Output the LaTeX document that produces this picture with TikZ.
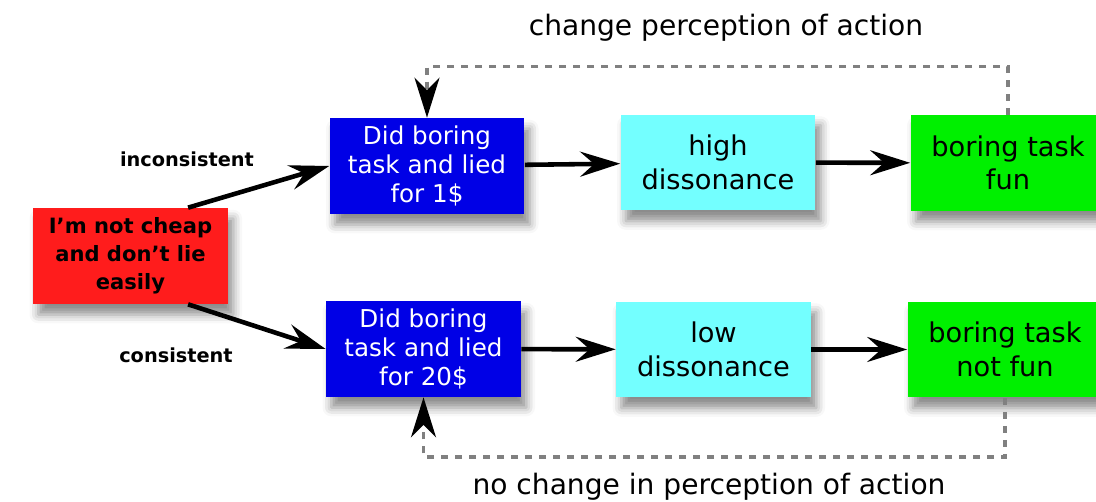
\documentclass[tikz,border=0pt]{standalone}
\usepackage{fontspec}
\setmainfont{DejaVu Sans}
\usetikzlibrary{arrows.meta,shadows.blur}
\definecolor{boxred}{RGB}{255,28,28}
\definecolor{boxblue}{RGB}{0,0,230}
\definecolor{boxcyan}{RGB}{115,255,255}
\definecolor{boxgreen}{RGB}{0,240,0}
\definecolor{dashgray}{RGB}{128,128,128}
\begin{document}
\begin{tikzpicture}[x=0.02cm,y=-0.02cm,
	box/.style={rectangle,inner sep=0pt,minimum width=3.9cm,minimum height=1.92cm,align=center,
		blur shadow={shadow xshift=3pt,shadow yshift=-6pt,shadow blur radius=5pt,shadow opacity=45}},
	big/.style={font=\fontsize{15.5}{19}\selectfont},
	arr/.style={line width=2.6pt,-{Stealth[length=0.8cm,width=0.5cm,inset=0.28cm]}},
	fb/.style={dashgray,line width=2pt,dash pattern=on 0.14cm off 0.14cm,
		-{Stealth[black,length=0.8cm,width=0.5cm,inset=0.25cm]}},
	lbl/.style={font=\bfseries\fontsize{11}{13}\selectfont},
	title/.style={font=\fontsize{16}{19}\selectfont}]
	\useasboundingbox (0,0) rectangle (1096,502);
	
	\node[box,fill=boxred,font=\bfseries\fontsize{12}{16}\selectfont] (cheap) at (130.5,256) {I'm not cheap\\and don't lie\\easily};
	\node[box,fill=boxblue,text=white,font=\fontsize{14}{16.5}\selectfont] (lied1) at (427,166) {Did boring\\task and lied\\for 1\$};
	\node[box,fill=boxblue,text=white,font=\fontsize{14}{16.5}\selectfont] (lied20) at (423.5,349) {Did boring\\task and lied\\for 20\$};
	\node[box,big,fill=boxcyan] (high) at (718,162.5) {high\\dissonance};
	\node[box,big,fill=boxcyan] (low) at (713.5,349.5) {low\\dissonance};
	\node[box,big,fill=boxgreen] (fun) at (1008,163) {boring task\\fun};
	\node[box,big,fill=boxgreen] (notfun) at (1005,349.5) {boring task\\not fun};
	
	\draw[arr] (cheap.40) -- (lied1.west);
	\draw[arr] (cheap.-40) -- (lied20.west);
	\draw[arr] (lied1) -- (high);
	\draw[arr] (high) -- (fun);
	\draw[arr] (lied20) -- (low);
	\draw[arr] (low) -- (notfun);
	
	\node[lbl] (incons) at (187,159) {inconsistent};
	\node[lbl] (cons) at (176,355) {consistent};
	
	% feedback loops
	\draw[fb] (fun.north) -- ++(0,-48) -| (lied1.north);
	\draw[fb] (notfun.south) -- ++(0,59) -| (lied20.south);
	\node[title] (chg) at (726,28) {change perception of action};
	\node[title] (nochg) at (709,487) {no change in perception of action};
\end{tikzpicture}
\end{document}
